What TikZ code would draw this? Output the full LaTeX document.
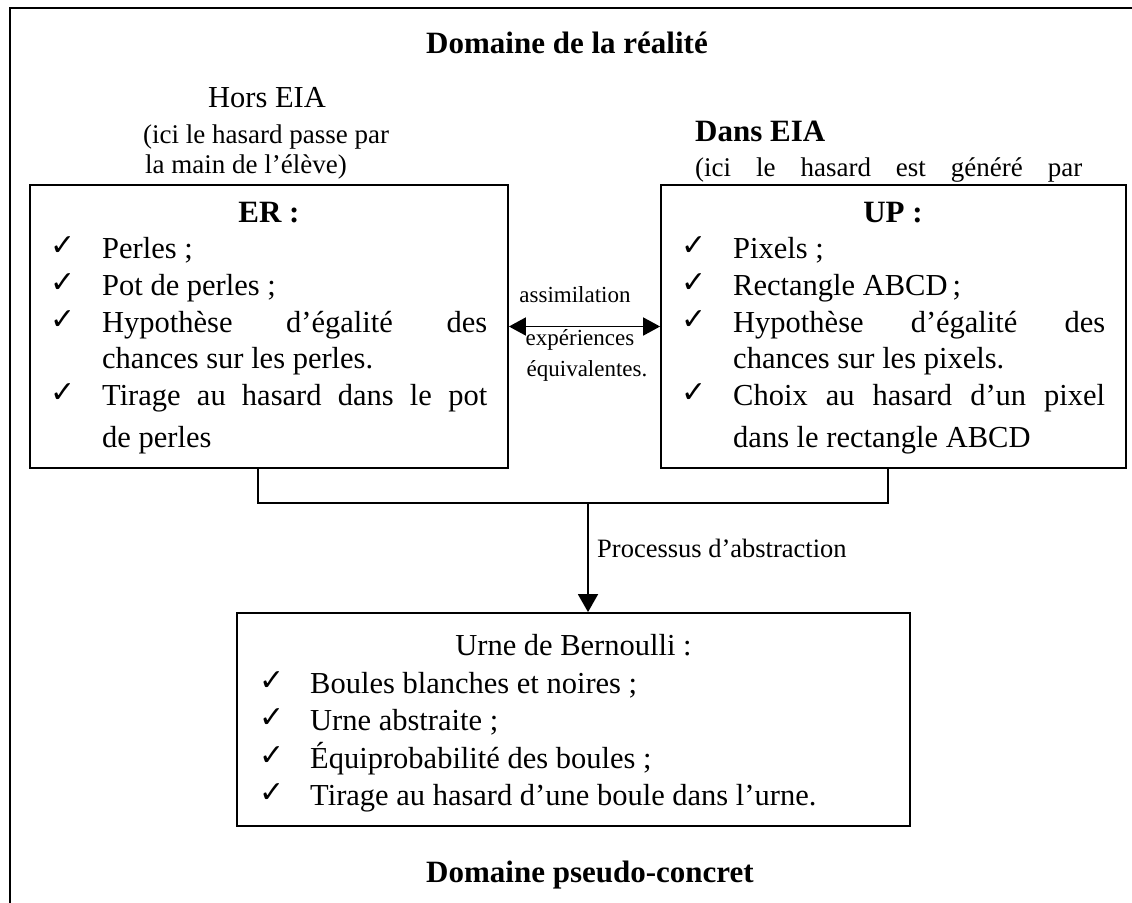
\documentclass[tikz,border=0pt]{standalone}
\usepackage{fontspec}
\setmainfont{Liberation Serif}
\newfontfamily\symbfont{DejaVu Sans}
\usetikzlibrary{arrows.meta}
% a text line stretched to a fixed width (justified line)
\newcommand\jline[2]{\makebox[#1][s]{#2}}
\begin{document}
\begin{tikzpicture}[x=1pt,y=-1pt,
  body/.style={inner sep=0pt, font=\fontsize{30.5}{36}\selectfont},
  note/.style={inner sep=0pt, font=\fontsize{27}{32}\selectfont},
  small/.style={inner sep=0pt, anchor=base, font=\fontsize{23}{28}\selectfont},
  head/.style={inner sep=0pt, font=\fontsize{31}{36}\selectfont\bfseries},
  item/.style={body, anchor=base west},
  chk/.style={inner sep=0pt, anchor=base west, font=\symbfont\fontsize{30}{30}\selectfont},
  box/.style={draw, line width=1.8pt, inner sep=0pt},
  link/.style={line width=1.8pt},
  frame/.style={line width=2.2pt},
  bigtip/.tip={Triangle[length=18pt,width=20pt]},
  sidetip/.tip={Triangle[length=17pt,width=18pt]}
]
\useasboundingbox (0,0) rectangle (1132,902);

% outer frame, open to the right and at the bottom
\draw[frame] (10,910) -- (10,8) -- (1140,8);

% headings
\node[head, anchor=base] (treal) at (567,53) {Domaine de la réalité};
\node[head, anchor=base west] (tpseudo) at (426,882) {Domaine pseudo-concret};

% captions above the two boxes
\node[body, anchor=base] (hors) at (267,107) {Hors EIA};
\node[note, anchor=base west] (hors1) at (143,143) {(ici le hasard passe par};
\node[note, anchor=base west] (hors2) at (145,173) {la main de l’élève)};
\node[head, anchor=base west] (dans) at (695,141) {Dans EIA};
\node[note, anchor=base west] (dans1) at (695,176) {\jline{387pt}{(ici le hasard est généré par}};

% ER box
\node[box, minimum width=478pt, minimum height=283pt, fill=white] (er) at (269,326.5) {};
\node[head, anchor=base] (ertitle) at (269,222) {ER :};
\node[chk] (erc1) at (50,255) {✓};
\node[item] (er1) at (102,258) {Perles ;};
\node[chk] (erc2) at (50,292) {✓};
\node[item] (er2) at (102,295) {Pot de perles ;};
\node[chk] (erc3) at (50,329) {✓};
\node[item] (er3) at (102,332) {\jline{385pt}{Hypothèse d’égalité des}};
\node[item] (er4) at (102,368) {chances sur les perles.};
\node[chk] (erc5) at (50,402) {✓};
\node[item] (er5) at (102,405) {\jline{385pt}{Tirage au hasard dans le pot}};
\node[item] (er6) at (102,447) {de perles};

% UP box
\node[box, minimum width=465pt, minimum height=283pt, fill=white] (up) at (893.5,326.5) {};
\node[head, anchor=base] (uptitle) at (893,222) {UP :};
\node[chk] (upc1) at (681,255) {✓};
\node[item] (up1) at (733,258) {Pixels ;};
\node[chk] (upc2) at (681,292) {✓};
\node[item] (up2) at (733,295) {Rectangle ABCD\,;};
\node[chk] (upc3) at (681,329) {✓};
\node[item] (up3) at (733,332) {\jline{372pt}{Hypothèse d’égalité des}};
\node[item] (up4) at (733,368) {chances sur les pixels.};
\node[chk] (upc5) at (681,402) {✓};
\node[item] (up5) at (733,405) {\jline{372pt}{Choix au hasard d’un pixel}};
\node[item] (up6) at (733,447) {dans le rectangle ABCD};

% assimilation arrow between the two boxes
\draw[link, sidetip-sidetip] (er.east) -- (up.west);
\node[small] (as1) at (575,302) {assimilation};
\node[small] (as2) at (580,345) {expériences};
\node[small] (as3) at (587,376) {équivalentes.};

% Bernoulli urn box
\node[box, minimum width=673pt, minimum height=213pt] (bern) at (573.5,719.5) {};
\node[body, anchor=base] (berntitle) at (573.5,655) {Urne de Bernoulli :};
\node[chk] (bc1) at (259,690) {✓};
\node[item] (b1) at (310,693) {Boules blanches et noires ;};
\node[chk] (bc2) at (259,727) {✓};
\node[item] (b2) at (310,730) {Urne abstraite ;};
\node[chk] (bc3) at (259,765) {✓};
\node[item] (b3) at (310,768) {Équiprobabilité des boules ;};
\node[chk] (bc4) at (259,802) {✓};
\node[item] (b4) at (310,805) {Tirage au hasard d’une boule dans l’urne.};

% joining bracket and abstraction arrow
\coordinate (jl) at (258,503);
\coordinate (jr) at (888,503);
\coordinate (jm) at (588,503);
\draw[link] (er.south -| jl) -- (jl) -- (jr) -- (up.south -| jr);
\draw[link, -bigtip] (jm) -- (bern.north -| jm);
\node[inner sep=0pt, anchor=base west, font=\fontsize{26.5}{32}\selectfont] (proc) at (597,557) {Processus d’abstraction};
\end{tikzpicture}
\end{document}
